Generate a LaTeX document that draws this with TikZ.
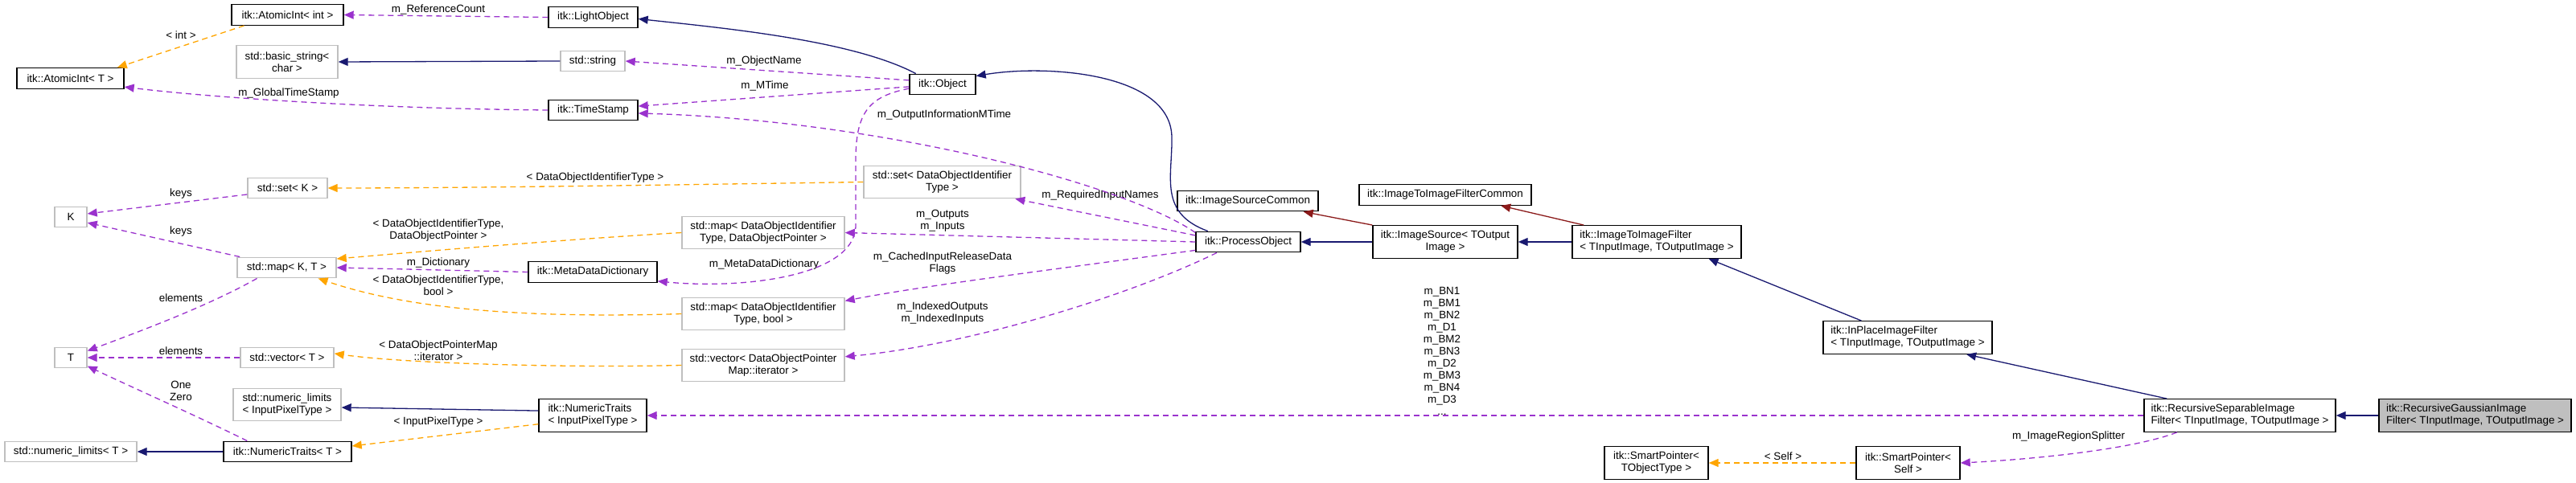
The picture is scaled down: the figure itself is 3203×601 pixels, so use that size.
\documentclass[tikz,border=0pt]{standalone}
\usepackage{fontspec}
\setmainfont{Liberation Sans}
\usetikzlibrary{arrows.meta}
\definecolor{inh}{HTML}{191970}
\definecolor{prv}{HTML}{8B1A1A}
\definecolor{use}{HTML}{9A32CD}
\definecolor{tpl}{HTML}{FFA500}
\definecolor{gbd}{HTML}{BFBFBF}
\begin{document}
\begin{tikzpicture}[x=1pt,y=-1pt,
  every node/.style={font=\fontsize{13.4}{15}\selectfont, inner sep=0pt},
  box/.style={draw=black, line width=1.4pt, minimum width=#1, align=center},
  gbox/.style={draw=gbd, line width=1.4pt, minimum width=#1, align=center},
  h1/.style={minimum height=25.5pt},
  h2/.style={minimum height=40.5pt},
  lbl/.style={align=center},
  inhe/.style={-{Triangle[length=12pt,width=10pt,fill=inh]}, draw=inh, line width=1.3pt},
  prve/.style={-{Triangle[length=12pt,width=10pt,fill=prv]}, draw=prv, line width=1.3pt},
  usee/.style={-{Triangle[length=12pt,width=10pt,fill=use]}, draw=use, line width=1.3pt, dash pattern=on 7pt off 5pt},
  tple/.style={-{Triangle[length=12pt,width=10pt,fill=tpl]}, draw=tpl, line width=1.3pt, dash pattern=on 7pt off 5pt}]
\useasboundingbox (0,0) rectangle (3203,601);
% nodes
\node[box=139pt,h1] (aint) at (357.5,18.5) {itk::AtomicInt< int >};
\node[box=133pt,h1] (aT) at (87.5,97.5) {itk::AtomicInt< T >};
\node[gbox=126pt,h2] (bstr) at (357,77) {std::basic\_string<\\char >};
\node[box=111pt,h1] (light) at (737.5,21.5) {itk::LightObject};
\node[gbox=80pt,h1] (sstr) at (737,76) {std::string};
\node[box=111pt,h1] (tstamp) at (737.5,137) {itk::TimeStamp};
\node[gbox=99pt,h1] (setK) at (357.5,234) {std::set< K >};
\node[gbox=40pt,h1] (K) at (88,270) {K};
\node[gbox=123pt,h1] (mapKT) at (356.5,333) {std::map< K, T >};
\node[box=160pt,h1] (mdd) at (737,338.5) {itk::MetaDataDictionary};
\node[gbox=40pt,h1] (T) at (88,445) {T};
\node[gbox=116pt,h1] (vecT) at (357,445) {std::vector< T >};
\node[gbox=134pt,h2,align=left] (nlIPT) at (357,503.5) {std::numeric\_limits\\< InputPixelType >};
\node[box=134pt,h2,align=left] (ntIPT) at (737,517) {itk::NumericTraits\\< InputPixelType >};
\node[box=159pt,h1] (ntT) at (357.5,562) {itk::NumericTraits< T >};
\node[gbox=164pt,h1] (nlT) at (88,562) {std::numeric\_limits< T >};
\node[box=82pt,h1] (obj) at (1172,105) {itk::Object};
\node[gbox=195pt,h2] (setDOIT) at (1171.5,226.5) {std::set< DataObjectIdentifier\\Type >};
\node[box=175pt,h1] (iscommon) at (1551.5,250) {itk::ImageSourceCommon};
\node[gbox=202pt,h2] (mapDOP) at (949,289.5) {std::map< DataObjectIdentifier\\Type, DataObjectPointer >};
\node[box=130pt,h1] (po) at (1552,301) {itk::ProcessObject};
\node[gbox=202pt,h2] (mapBool) at (949,390.5) {std::map< DataObjectIdentifier\\Type, bool >};
\node[gbox=202pt,h2] (vecIt) at (949,454.5) {std::vector< DataObjectPointer\\Map::iterator >};
\node[box=214pt,h1] (i2icommon) at (1797,242.5) {itk::ImageToImageFilterCommon};
\node[box=180pt,h2] (isrc) at (1797,301) {itk::ImageSource< TOutput\\Image >};
\node[box=210pt,h2,align=left] (i2i) at (2060,301) {itk::ImageToImageFilter\\< TInputImage, TOutputImage >};
\node[box=210pt,h2,align=left] (inplace) at (2372,420) {itk::InPlaceImageFilter\\< TInputImage, TOutputImage >};
\node[box=238pt,h2,align=left] (rsep) at (2785,517) {itk::RecursiveSeparableImage\\Filter< TInputImage, TOutputImage >};
\node[box=239pt,h2,align=left,fill=gbd] (gauss) at (3077.5,517) {itk::RecursiveGaussianImage\\Filter< TInputImage, TOutputImage >};
\node[box=129pt,h2] (spT) at (2059.5,576) {itk::SmartPointer<\\TObjectType >};
\node[box=129pt,h2] (spSelf) at (2372.5,576) {itk::SmartPointer<\\Self >};
% labels
\node[lbl] (l1) at (545,12) {m\_ReferenceCount};
\node[lbl] (l2) at (225,44) {< int >};
\node[lbl] (l3) at (359,116) {m\_GlobalTimeStamp};
\node[lbl] (l4) at (740,221) {< DataObjectIdentifierType >};
\node[lbl] (l5) at (225,241) {keys};
\node[lbl] (l6) at (225,288) {keys};
\node[lbl] (l7) at (545,287) {< DataObjectIdentifierType,\\DataObjectPointer >};
\node[lbl] (l8) at (545,327) {m\_Dictionary};
\node[lbl] (l9) at (545,355) {< DataObjectIdentifierType,\\bool >};
\node[lbl] (l10) at (225,371) {elements};
\node[lbl] (l11) at (225,437) {elements};
\node[lbl] (l12) at (545,436) {< DataObjectPointerMap\\::iterator >};
\node[lbl] (l13) at (225,486) {One\\Zero};
\node[lbl] (l14) at (545,525) {< InputPixelType >};
\node[lbl] (l15) at (950,76) {m\_ObjectName};
\node[lbl] (l16) at (951,107) {m\_MTime};
\node[lbl] (l17) at (1174,143) {m\_OutputInformationMTime};
\node[lbl] (l18) at (1368,243) {m\_RequiredInputNames};
\node[lbl] (l19) at (1172,275) {m\_Outputs\\m\_Inputs};
\node[lbl] (l20) at (950,329) {m\_MetaDataDictionary};
\node[lbl] (l21) at (1172,328) {m\_CachedInputReleaseData\\Flags};
\node[lbl] (l22) at (1172,390) {m\_IndexedOutputs\\m\_IndexedInputs};
\node[lbl] (l23) at (1793,437) {m\_BN1\\m\_BM1\\m\_BN2\\m\_D1\\m\_BM2\\m\_BN3\\m\_D2\\m\_BM3\\m\_BN4\\m\_D3\\...};
\node[lbl] (l24) at (2572,543) {m\_ImageRegionSplitter};
\node[lbl] (l25) at (2217,568) {< Self >};
% edges
\draw[usee] (light.west) -- (aint.east);
\draw[tple] (aint.194) -- (aT.13);
\draw[inhe] (sstr.west) -- (bstr.east);
\draw[usee] (tstamp.west) .. controls (450,135) and (250,120) .. (aT.-9);
\draw[inhe] (obj.158) .. controls (1060,50) and (900,35) .. (light.-2);
\draw[usee] (obj.173) -- (sstr.east);
\draw[usee] (obj.184) -- (tstamp.5);
\draw[usee] (po.170) .. controls (1400,230) and (1100,150) .. (tstamp.-4);
\draw[inhe] (po.165) .. controls (1440,265) and (1458,220) .. (1457,170) .. controls (1455,90) and (1300,80) .. (obj.14);
\draw[usee] (po.173) -- (setDOIT.-13);
\draw[usee] (po.180) -- (mapDOP.east);
\draw[usee] (po.189) .. controls (1350,330) and (1150,355) .. (mapBool.9);
\draw[usee] (po.-161) .. controls (1400,370) and (1200,430) .. (vecIt.6);
\draw[usee] (obj.187) .. controls (1080,120) and (1064,140) .. (1064,200) -- (1064,280) .. controls (1064,345) and (920,360) .. (mdd.-8);
\draw[usee] (mdd.west) -- (mapKT.east);
\draw[tple] (mapDOP.west) .. controls (700,298) and (500,315) .. (mapKT.10);
\draw[tple] (mapBool.west) .. controls (600,398) and (480,375) .. (mapKT.-19);
\draw[tple] (setDOIT.west) .. controls (900,229) and (600,234) .. (setK.east);
\draw[usee] (setK.189) -- (K.11);
\draw[usee] (mapKT.167) -- (K.-19);
\draw[usee] (mapKT.-160) .. controls (260,380) and (180,410) .. (T.22);
\draw[usee] (vecT.west) -- (T.east);
\draw[tple] (vecIt.west) .. controls (700,458) and (500,452) .. (vecT.5);
\draw[usee] (ntT.165) .. controls (250,520) and (160,480) .. (T.-27);
\draw[inhe] (ntT.west) -- (nlT.east);
\draw[inhe] (ntIPT.175) -- (nlIPT.-3);
\draw[tple] (ntIPT.189) -- (ntT.5);
\draw[inhe] (isrc.west) -- (po.east);
\draw[prve] (isrc.north west) -- (iscommon.-11);
\draw[inhe] (i2i.west) -- (isrc.east);
\draw[prve] (i2i.167) -- (i2icommon.-11);
\draw[inhe] (inplace.160) -- (i2i.-18);
\draw[inhe] (rsep.167) -- (inplace.-16);
\draw[inhe] (gauss.west) -- (rsep.east);
\draw[usee] (rsep.west) -- (ntIPT.east);
\draw[usee] (rsep.-165) .. controls (2650,560) and (2520,572) .. (spSelf.east);
\draw[tple] (spSelf.west) -- (spT.east);
\end{tikzpicture}
\end{document}
